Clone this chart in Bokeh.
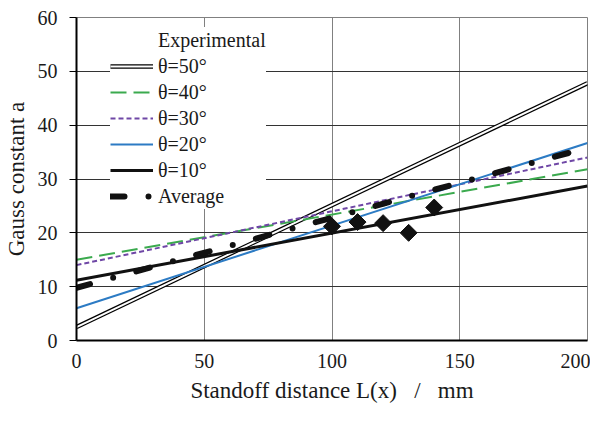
import numpy as np
from bokeh.plotting import figure
from bokeh.models import ColumnDataSource, Legend, LegendItem, FixedTicker
from bokeh.embed import file_html
from bokeh.resources import INLINE

# ---- data ----
x_ends = [0, 200]
theta50 = [2.5, 47.8]
theta40 = [15.0, 31.8]
theta30 = [14.0, 34.0]
theta20 = [6.0, 36.7]
theta10 = [11.2, 28.7]
average = [9.8, 35.8]
exp_x = [100, 110, 120, 130, 140]
exp_y = [21.2, 22.0, 21.8, 20.0, 24.7]
x_ticks = [0, 50, 100, 150, 200]
y_ticks = [0, 10, 20, 30, 40, 50, 60]

FONT = "Liberation Serif"

p = figure(width=590, height=405, x_range=(0, 200), y_range=(0, 60),
           output_backend="svg", toolbar_location=None,
           min_border_left=72, min_border_right=3, min_border_top=17, min_border_bottom=60)
p.background_fill_color = "white"
p.border_fill_color = "white"
p.outline_line_color = "#808080"
p.outline_line_width = 1

p.xaxis.ticker = FixedTicker(ticks=x_ticks)
p.yaxis.ticker = FixedTicker(ticks=y_ticks)
for ax in (p.xaxis[0], p.yaxis[0]):
    ax.major_label_text_font = FONT
    ax.major_label_text_font_size = "20px"
    ax.major_label_text_color = "#1a1a1a"
    ax.axis_line_color = "black"
    ax.axis_line_width = 2
    ax.minor_tick_line_color = None
    ax.major_tick_line_color = "black"
    ax.axis_label_text_font = FONT
    ax.axis_label_text_font_size = "23px"
    ax.axis_label_text_font_style = "normal"
    ax.axis_label_text_color = "#1a1a1a"

p.xaxis.major_tick_in = 0
p.xaxis.major_tick_out = 0
p.xaxis.major_label_standoff = 13
p.xaxis.axis_label = "Standoff distance L(x) \u2002/\u2002 mm"
p.xaxis.axis_label_standoff = 7
p.yaxis.major_tick_in = 0
p.yaxis.major_tick_out = 7
p.yaxis.major_tick_line_width = 1
p.yaxis.major_label_standoff = 12
p.yaxis.axis_label = "Gauss constant a"
p.yaxis.axis_label_standoff = 6

p.xgrid.grid_line_color = "#808080"
p.xgrid.grid_line_width = 1
p.ygrid.grid_line_color = "#333333"
p.ygrid.grid_line_width = 1

src = ColumnDataSource(dict(x=x_ends, t50=theta50, t40=theta40, t30=theta30,
                            t20=theta20, t10=theta10, avg=average))

r50a = p.line("x", "t50", source=src, line_color="black", line_width=4.5)
r50b = p.line("x", "t50", source=src, line_color="white", line_width=2)
r40 = p.line("x", "t40", source=src, line_color="#3BAA4E", line_width=2, line_dash="16 7")
r30 = p.line("x", "t30", source=src, line_color="#6F47A6", line_width=2, line_dash="5 3")
r20 = p.line("x", "t20", source=src, line_color="#2C7BC4", line_width=2)
r10 = p.line("x", "t10", source=src, line_color="#111111", line_width=3)
ravg = p.line("x", "avg", source=src, line_color="#111111", line_width=6,
              line_dash="14 24 0 24", line_cap="round")

exp_src = ColumnDataSource(dict(x=exp_x, y=exp_y))
p.scatter("x", "y", source=exp_src, marker="square", angle=np.pi / 4, size=12,
          fill_color="#111111", line_color="#111111")
# small marker used only for the legend entry
rexp_leg = p.scatter(x=[], y=[], marker="square", angle=np.pi / 4, size=7,
                     fill_color="#111111", line_color="#111111")

legend = Legend(items=[
    LegendItem(label="Experimental", renderers=[rexp_leg]),
    LegendItem(label="θ=50°", renderers=[r50a, r50b]),
    LegendItem(label="θ=40°", renderers=[r40]),
    LegendItem(label="θ=30°", renderers=[r30]),
    LegendItem(label="θ=20°", renderers=[r20]),
    LegendItem(label="θ=10°", renderers=[r10]),
    LegendItem(label="Average", renderers=[ravg]),
], location=(34, 131))
legend.label_text_font = FONT
legend.label_text_font_size = "20px"
legend.label_text_color = "#1a1a1a"
legend.border_line_color = None
legend.background_fill_color = "white"
legend.background_fill_alpha = 1
legend.glyph_width = 43
legend.glyph_height = 26
legend.label_height = 26
legend.label_standoff = 5
legend.spacing = 0
legend.padding = 10
legend.margin = 0
p.add_layout(legend, "center")

open("out.html", "w").write(file_html(p, INLINE))
